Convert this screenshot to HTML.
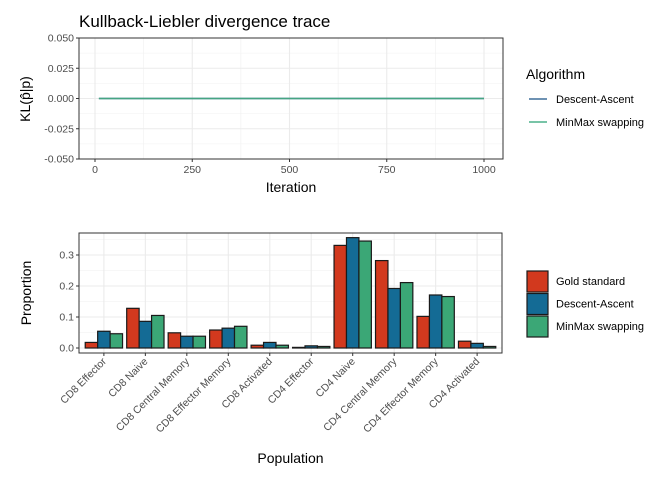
<!DOCTYPE html>
<html><head><meta charset="utf-8"><style>
body{margin:0;background:#fff;}
svg{display:block;font-family:"Liberation Sans",sans-serif;}
</style></head><body>
<svg id="c" width="672" height="480" viewBox="0 0 672 480" xmlns="http://www.w3.org/2000/svg"></svg>
<script>
const traceIters=[10,1000];
const traceDA=[0,0];
const traceMM=[0,0];
const topYTicks=[-0.05,-0.025,0,0.025,0.05];
const topYLabels=["-0.050","-0.025","0.000","0.025","0.050"];
const topXTicks=[0,250,500,750,1000];
const categories=["CD8 Effector","CD8 Naive","CD8 Central Memory","CD8 Effector Memory","CD8 Activated","CD4 Effector","CD4 Naive","CD4 Central Memory","CD4 Effector Memory","CD4 Activated"];
const gold=[0.018,0.128,0.049,0.058,0.009,0.002,0.331,0.282,0.102,0.022];
const descent=[0.054,0.086,0.038,0.064,0.018,0.007,0.356,0.192,0.171,0.015];
const minmax=[0.046,0.105,0.038,0.070,0.009,0.005,0.345,0.211,0.166,0.005];
const botYTicks=[0,0.1,0.2,0.3];
const botYLabels=["0.0","0.1","0.2","0.3"];

const NS="http://www.w3.org/2000/svg";
const svg=document.getElementById('c');
function mk(t,a,p){const e=document.createElementNS(NS,t);for(const k in a)e.setAttribute(k,a[k]);(p||svg).appendChild(e);return e;}
function txt(s,a,nm){const e=mk('text',a);e.textContent=s;


return e;}

// ---------- top panel
const tL=79,tR=503,tT=38,tB=159;
const tx=v=>95+v*(484-95)/1000;
const ty=v=>tT+(0.05-v)*(tB-tT)/0.1;
txt("Kullback-Liebler divergence trace",{x:79,y:27,'font-size':17,fill:'#000'},'chart-title');
const tp=mk('rect',{x:tL,y:tT,width:tR-tL,height:tB-tT,fill:'#fff'});


[-0.0375,-0.0125,0.0125,0.0375].forEach(v=>mk('line',{x1:tL,x2:tR,y1:ty(v),y2:ty(v),stroke:'#f0f0f0','stroke-width':0.6}));
[125,375,625,875].forEach(v=>mk('line',{x1:tx(v),x2:tx(v),y1:tT,y2:tB,stroke:'#f0f0f0','stroke-width':0.6}));
topYTicks.forEach((v,i)=>{mk('line',{x1:tL,x2:tR,y1:ty(v),y2:ty(v),stroke:'#ebebeb','stroke-width':1.1});
mk('line',{x1:tL-3,x2:tL,y1:ty(v),y2:ty(v),stroke:'#333'});
txt(topYLabels[i],{x:tL-5,y:ty(v)+3.5,'font-size':10.5,fill:'#4d4d4d','text-anchor':'end'},'top-y-tick-label');});
topXTicks.forEach(v=>{mk('line',{x1:tx(v),x2:tx(v),y1:tT,y2:tB,stroke:'#ebebeb','stroke-width':1.1});
mk('line',{x1:tx(v),x2:tx(v),y1:tB,y2:tB+3,stroke:'#333'});
txt(String(v),{x:tx(v),y:tB+14,'font-size':10.5,fill:'#4d4d4d','text-anchor':'middle'},'top-x-tick-label');});
const l1=mk('polyline',{points:traceIters.map((x,i)=>tx(x)+','+ty(traceDA[i])).join(' '),fill:'none',stroke:'#3E6E9A','stroke-width':1.5});


const l2=mk('polyline',{points:traceIters.map((x,i)=>tx(x)+','+ty(traceMM[i])).join(' '),fill:'none',stroke:'#45A582','stroke-width':1.5});


mk('rect',{x:tL,y:tT,width:tR-tL,height:tB-tT,fill:'none',stroke:'#333','stroke-width':1});
txt("Iteration",{x:(tL+tR)/2,y:192,'font-size':14,fill:'#000','text-anchor':'middle'},'top-x-axis-title');
txt("KL(p\u0302|p)",{x:0,y:0,'font-size':14,fill:'#000','text-anchor':'middle',transform:'translate(30,99) rotate(-90)'},'top-y-axis-title');
txt("Algorithm",{x:526,y:79,'font-size':14,fill:'#000'},'top-legend-title');
mk('line',{x1:529,x2:547,y1:99,y2:99,stroke:'#3E6E9A','stroke-width':1.5});
txt("Descent-Ascent",{x:556,y:103,'font-size':11,fill:'#000'},'legend-descent-ascent');
mk('line',{x1:529,x2:547,y1:122,y2:122,stroke:'#4CB08A','stroke-width':1.5});
txt("MinMax swapping",{x:556,y:126,'font-size':11,fill:'#000'},'legend-minmax');

// ---------- bottom panel
const bL=79,bR=502,bT=233,bB=353;
const step=(bR-bL)/(categories.length-1+1.2);
const bx=i=>bL+0.6*step+i*step;
const by=v=>348-v*310;
[0.05,0.15,0.25,0.35].forEach(v=>mk('line',{x1:bL,x2:bR,y1:by(v),y2:by(v),stroke:'#f0f0f0','stroke-width':0.6}));
botYTicks.forEach((v,i)=>{mk('line',{x1:bL,x2:bR,y1:by(v),y2:by(v),stroke:'#ebebeb','stroke-width':1.1});
mk('line',{x1:bL-3,x2:bL,y1:by(v),y2:by(v),stroke:'#333'});
txt(botYLabels[i],{x:bL-5,y:by(v)+3.5,'font-size':10.5,fill:'#4d4d4d','text-anchor':'end'},'bottom-y-tick-label');});
const series=[gold,descent,minmax],cols=['#D2391E','#146B95','#3BA776'],snames=['gold','descent','minmax'];
const gw=0.9*step,bw=gw/3;
categories.forEach((c,i)=>{mk('line',{x1:bx(i),x2:bx(i),y1:bT,y2:bB,stroke:'#ebebeb','stroke-width':1.1});});
categories.forEach((c,i)=>{
 series.forEach((s,j)=>{const x=bx(i)-gw/2+j*bw;const r=mk('rect',{x:x,y:by(s[i]),width:bw,height:by(0)-by(s[i]),fill:cols[j],stroke:'#1a1a1a','stroke-width':1.2});
 
 });
 mk('line',{x1:bx(i),x2:bx(i),y1:bB,y2:bB+3,stroke:'#333'});
 txt(c,{x:0,y:0,'font-size':10.5,fill:'#4d4d4d','text-anchor':'end',transform:`translate(${bx(i)+3},${bB+9}) rotate(-45)`},'x-tick-label');
});
mk('rect',{x:bL,y:bT,width:bR-bL,height:bB-bT,fill:'none',stroke:'#333','stroke-width':1});
txt("Population",{x:(bL+bR)/2,y:463,'font-size':14,fill:'#000','text-anchor':'middle'},'x-axis-title');
txt("Proportion",{x:0,y:0,'font-size':14,fill:'#000','text-anchor':'middle',transform:'translate(31,293) rotate(-90)'},'y-axis-title');
const lg=['Gold standard','Descent-Ascent','MinMax swapping'];
lg.forEach((n,j)=>{const r=mk('rect',{x:527,y:271+j*22.5,width:21,height:21,fill:cols[j],stroke:'#1a1a1a','stroke-width':1.2});


txt(n,{x:556,y:285+j*22.5,'font-size':11,fill:'#000'},'legend-label-'+snames[j]);});
</script>
</body></html>
